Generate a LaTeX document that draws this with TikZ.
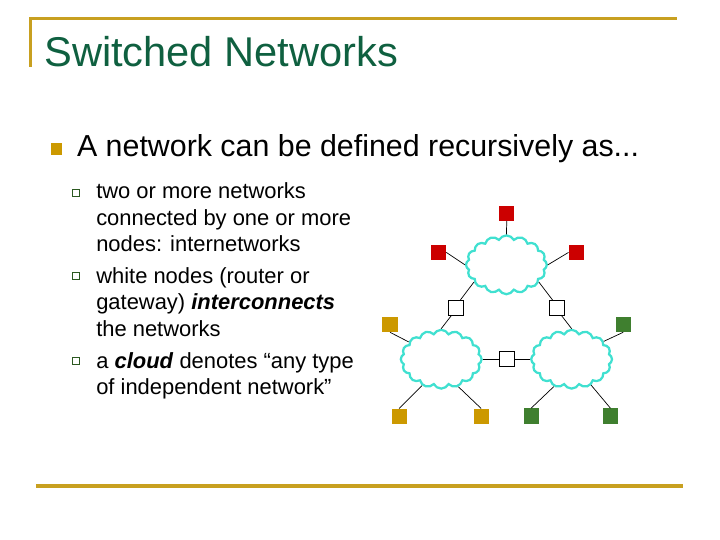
\documentclass[tikz,border=0pt]{standalone}
\usepackage{fontspec}
\usepackage{xcolor}
\setmainfont{Liberation Sans}
\usetikzlibrary{shapes.symbols}
\definecolor{rulegold}{HTML}{C8A020}
\definecolor{titlegreen}{HTML}{0F6040}
\definecolor{hostred}{HTML}{CC0000}
\definecolor{hostgold}{HTML}{CC9900}
\definecolor{hostgreen}{HTML}{3F7F2F}
\definecolor{cloudcyan}{HTML}{40E0D0}
\begin{document}
\begin{tikzpicture}[
    rulebar/.style={draw=rulegold, line width=2.2pt},
    host/.style={rectangle, minimum size=0.38cm, inner sep=0pt},
    router/.style={rectangle, draw, fill=white, minimum size=0.37cm, inner sep=0pt, line width=0.5pt},
    net/.style={cloud, draw=cloudcyan, fill=white, line width=1.6pt, cloud puffs=16, cloud puff arc=125, aspect=1.37, minimum width=2.02cm, minimum height=1.47cm, inner sep=0pt},
    link/.style={line width=0.5pt},
    subtext/.style={anchor=north west, align=left, inner sep=0pt, font=\fontsize{15.6}{18.8}\selectfont},
    bigbullet/.style={rectangle, fill=hostgold, minimum size=0.29cm, inner sep=0pt},
    smallbullet/.style={rectangle, draw=hostgreen!70!black, fill=white, line width=0.6pt, minimum size=0.17cm, inner sep=0pt}
]
    \useasboundingbox (0,0) rectangle (18,-13.5);

    % Rules
    \draw[rulebar] (0.76,-1.67) -- (0.76,-0.46) -- (16.93,-0.46);
    \draw[rulebar] (0.9,-12.15) -- (17.08,-12.15);

    % Title
    \node[anchor=west, inner sep=0pt, text=titlegreen, font=\fontsize{29.6}{34}\selectfont] (title) at (1.1,-1.29) {Switched Networks};

    % Bullets
    \node[bigbullet] (b0) at (1.41,-3.72) {};
    \node[anchor=west, inner sep=0pt, font=\fontsize{21.6}{26}\selectfont] (head) at (1.92,-3.71) {A network can be defined recursively as...};
    \node[smallbullet] (b1) at (1.9,-4.83) {};
    \node[smallbullet] (b2) at (1.9,-6.9) {};
    \node[smallbullet] (b3) at (1.9,-9.03) {};
    \node[subtext] (t1) at (2.4,-4.57) {two or more networks\\connected by one or more\\nodes: internetworks};
    \node[subtext] (t2) at (2.4,-6.68) {white nodes (router or\\gateway) \textbf{\textit{interconnects}}\\the networks};
    \node[subtext] (t3) at (2.4,-8.8) {a \textbf{\textit{cloud}} denotes “any type\\of independent network”};

    % Networks
    \node[net] (cloudt) at (12.66,-6.62) {};
    \node[net] (cloudl) at (11.03,-8.98) {};
    \node[net] (cloudr) at (14.29,-8.98) {};

    % Hosts
    \node[host, fill=hostred] (redt) at (12.67,-5.33) {};
    \node[host, fill=hostred] (redl) at (10.96,-6.31) {};
    \node[host, fill=hostred] (redr) at (14.41,-6.31) {};
    \node[host, fill=hostgold] (goldt) at (9.75,-8.11) {};
    \node[host, fill=hostgold] (goldl) at (9.98,-10.41) {};
    \node[host, fill=hostgold] (goldr) at (12.03,-10.41) {};
    \node[host, fill=hostgreen] (greent) at (15.58,-8.11) {};
    \node[host, fill=hostgreen] (greenl) at (13.28,-10.40) {};
    \node[host, fill=hostgreen] (greenr) at (15.26,-10.40) {};

    % Routers
    \node[router] (routl) at (11.40,-7.69) {};
    \node[router] (routr) at (13.93,-7.70) {};
    \node[router] (routb) at (12.68,-8.98) {};

    % Links
    \draw[link] (redt.south) -- (cloudt.90);
    \draw[link] (redl.east) -- (cloudt.180);
    \draw[link] (redr.west) -- (cloudt.0);
    \draw[link] (goldt.south) -- (cloudl.152);
    \draw[link] (goldl.north) -- (cloudl.234);
    \draw[link] (goldr.north) -- (cloudl.302);
    \draw[link] (greent.south) -- (cloudr.29);
    \draw[link] (greenl.north) -- (cloudr.237);
    \draw[link] (greenr.north) -- (cloudr.307);
    \draw[link] (cloudt.208) -- (routl.60);
    \draw[link] (routl.240) -- (cloudl.90);
    \draw[link] (cloudt.332) -- (routr.120);
    \draw[link] (routr.300) -- (cloudr.90);
    \draw[link] (cloudl.0) -- (routb.west);
    \draw[link] (routb.east) -- (cloudr.180);
\end{tikzpicture}
\end{document}
